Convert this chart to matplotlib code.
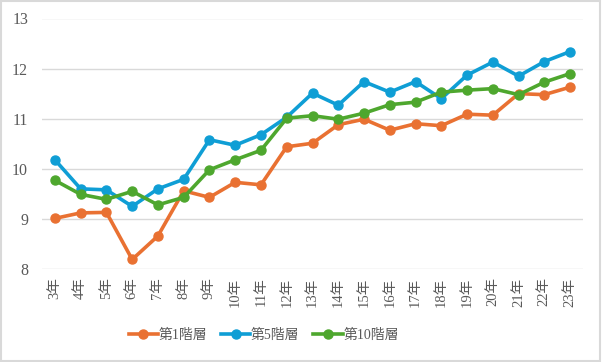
import matplotlib
matplotlib.use("Agg")
import matplotlib.pyplot as plt
from matplotlib.patches import Rectangle

plt.rcParams['font.family'] = ['Liberation Serif', 'Noto Sans CJK JP']

years = [f"{i}年" for i in range(3, 24)]
series_names = ["第1階層", "第5階層", "第10階層"]
tier1 = [9.01, 9.12, 9.13, 8.19, 8.66, 9.56, 9.43, 9.73, 9.68, 10.44, 10.51,
         10.88, 10.99, 10.77, 10.90, 10.86, 11.09, 11.07, 11.50, 11.48, 11.63]
tier5 = [10.18, 9.60, 9.58, 9.25, 9.60, 9.79, 10.58, 10.47, 10.68, 11.03, 11.51,
         11.27, 11.74, 11.53, 11.74, 11.40, 11.87, 12.13, 11.85, 12.14, 12.34]
tier10 = [9.77, 9.49, 9.39, 9.55, 9.28, 9.43, 9.98, 10.18, 10.37, 11.01, 11.06,
          10.99, 11.11, 11.28, 11.33, 11.53, 11.57, 11.60, 11.48, 11.73, 11.90]
colors = ["#E97132", "#0F9ED5", "#4EA72E"]

fig = plt.figure(figsize=(6.02, 3.62), dpi=100)
ax = fig.add_axes([42/602, 1 - 269/362, 541/602, 250.5/362])

x = range(len(years))
for vals, name, c in zip([tier1, tier5, tier10], series_names, colors):
    ax.plot(x, vals, color=c, lw=2.6, marker="o", markersize=6.5, label=name,
            solid_joinstyle="round")

ax.set_xlim(-0.5, len(years) - 0.5)
ax.set_ylim(8, 13)
ax.set_yticks([8, 9, 10, 11, 12, 13])
ax.set_xticks(list(x))
ax.set_xticklabels(years, rotation=90)
ax.yaxis.grid(True, color="#D9D9D9", lw=1)
ax.set_axisbelow(True)
for s in ax.spines.values():
    s.set_visible(False)
ax.tick_params(length=0, colors="#595959")
ax.tick_params(axis="x", pad=6, labelsize=10.5)
ax.tick_params(axis="y", pad=10, labelsize=11.5)

ax.legend(loc="center", bbox_to_anchor=(0.41, -0.265), ncol=3, frameon=False,
          fontsize=10, labelcolor="#595959", handlelength=2.1,
          handletextpad=0.05, columnspacing=1.0)

fig.patches.append(Rectangle((0.002, 0.003), 0.995, 0.993, transform=fig.transFigure,
                             fill=False, edgecolor="#D9D9D9", lw=1.5))

fig.savefig("out.png", dpi=100)
